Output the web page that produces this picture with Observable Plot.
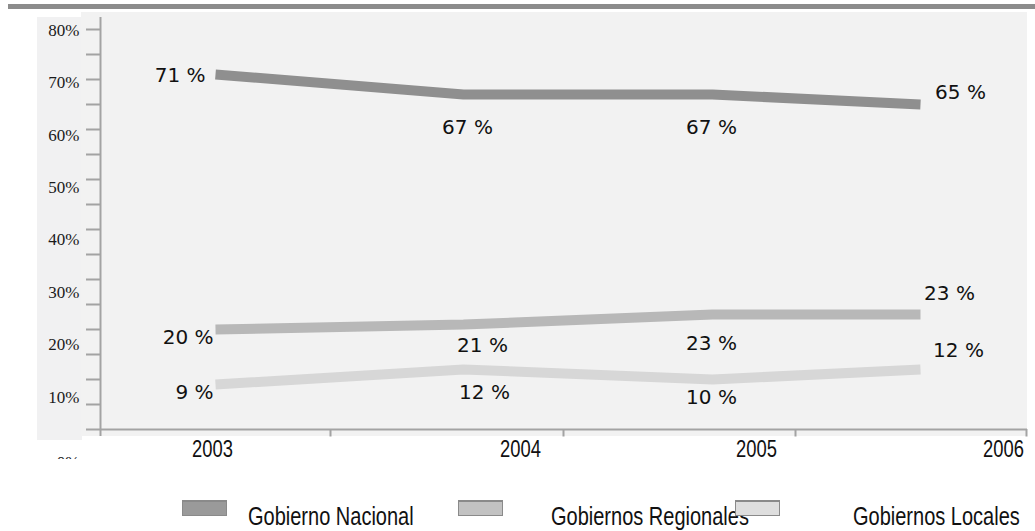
<!DOCTYPE html>
<html>
<head>
<meta charset="utf-8">
<script src="https://cdn.jsdelivr.net/npm/d3@7"></script>
<script src="https://cdn.jsdelivr.net/npm/@observablehq/plot@0.6"></script>
<style>
  body { margin: 0; background: #fff; }
  #wrap { position: relative; width: 1035px; height: 531px; overflow: hidden; font-family: "Liberation Sans", Arial, sans-serif; }
  .topbar { position: absolute; left: 8px; top: 4px; width: 1027px; height: 5px; background: #8c8c8c; }
  .lpanel { position: absolute; left: 37px; top: 17px; width: 45px; height: 423px; background: #f1f1f2; }
  .ppanel { position: absolute; left: 81px; top: 12px; width: 946px; height: 424px; background: #f2f2f2; }
  #chart { position: absolute; left: 0; top: 0; width: 1035px; height: 480px; }
  #chart svg { background: transparent !important; }
  .cover { position: absolute; left: 40px; top: 459px; width: 50px; height: 20px; background: #fff; }
  .sw { position: absolute; top: 500px; width: 43px; height: 13px; border: 1px solid #8a8a8a; border-top-width: 2px; }
  .lt { position: absolute; top: 502px; font-size: 25px; line-height: 28px; color: #111; white-space: nowrap; transform: scaleX(0.8); transform-origin: left top; }
</style>
</head>
<body>
<div id="wrap">
  <div class="topbar"></div>
  <div class="lpanel"></div>
  <div class="ppanel"></div>
  <div id="chart"></div>
  <div class="cover"></div>
  <div id="legend"></div>
</div>
<script>
// ---------- data ----------
const years = [2003, 2004, 2005, 2006];
const seriesNames = ["Gobierno Nacional", "Gobiernos Regionales", "Gobiernos Locales"];
const nacional = [71, 67, 67, 65];
const regionales = [20, 21, 23, 23];
const locales = [9, 12, 10, 12];
const yTickValues = [0, 10, 20, 30, 40, 50, 60, 70, 80];
const yTickLabels = ["0%", "10%", "20%", "30%", "40%", "50%", "60%", "70%", "80%"];
const yearLabels = ["2003", "2004", "2005", "2006"];

// ---------- table built from arrays ----------
const seriesValues = [nacional, regionales, locales];
const rows = [];
seriesNames.forEach((s, si) => years.forEach((y, i) => rows.push({series: s, year: y, value: seriesValues[si][i]})));

// ---------- layout / style ----------
const colors = ["#8f8f8f", "#b8b8b8", "#d7d7d7"];
const axisColor = "#a3a3a3";
// per-label offsets [dx, dy, anchor]
const labelOffsets = [
  [[-10, 1, "end"], [4, 33, "middle"], [-1, 33, "middle"], [40, -12, "middle"]],
  [[-2, 8, "end"], [19, 21, "middle"], [-1, 29, "middle"], [29, -21, "middle"]],
  [[-2, 8, "end"], [21, 23, "middle"], [-1, 18, "middle"], [38, -19, "middle"]]
];
const yearLabelDx = [-3, 57, 44, 83];
const separatorDx = [115, 100, 83, 106];

const marks = [];
// y axis ticks (major + minor)
marks.push(Plot.axisY(d3.range(0, 81, 5), {tickSize: 14, tickFormat: () => "", label: null, stroke: axisColor, strokeWidth: 2}));
// y axis labels
yTickValues.forEach((v, i) => {
  marks.push(Plot.text([v], {
    y: d => d, frameAnchor: "left", text: () => yTickLabels[i], textAnchor: "end",
    dx: -21, dy: v === 0 ? 33 : 20 - 0.24 * v,
    fontFamily: "Liberation Serif", fontSize: 17, fill: "#1a1a1a"
  }));
});
// y axis line
marks.push(Plot.ruleX([years[0]], {x: d => d, dx: -115, y1: () => -1.4, y2: () => 82.4, stroke: axisColor, strokeWidth: 2}));
// baseline
marks.push(Plot.ruleY([0], {stroke: axisColor, strokeWidth: 2}));
// x separators & labels
years.forEach((yr, i) => {
  marks.push(Plot.ruleX([yr], {x: d => d, dx: separatorDx[i], y1: () => 0, y2: () => -1.5, stroke: axisColor, strokeWidth: 2}));
  marks.push(Plot.text([yr], {
    x: d => d, y: () => 0, dy: 20, dx: yearLabelDx[i], text: () => yearLabels[i],
    fontFamily: "Liberation Sans", fontSize: 23, fill: "#111", className: "yearlab"
  }));
});
// lines
marks.push(Plot.line(rows, {x: "year", y: "value", z: "series", stroke: "series", strokeWidth: 10, strokeLinecap: "butt", strokeLinejoin: "bevel"}));
// data labels
seriesNames.forEach((s, si) => {
  years.forEach((yr, i) => {
    const [dx, dy, anchor] = labelOffsets[si][i];
    marks.push(Plot.text(rows.filter(r => r.series === s && r.year === yr), {
      x: "year", y: "value", text: d => `${d.value} %`, dx, dy, textAnchor: anchor,
      fontFamily: "DejaVu Sans", fontSize: 20, fill: "#111"
    }));
  });
});

const chart = Plot.plot({
  width: 1035, height: 480,
  marginLeft: 100, marginTop: 17, marginRight: 8, marginBottom: 44,
  style: {background: "transparent"},
  x: {type: "linear", domain: years, range: [215, 463, 712, 920], axis: null},
  y: {domain: [0, 80], range: [429, 29]},
  color: {domain: seriesNames, range: colors},
  marks
});
document.getElementById("chart").appendChild(chart);

// condense the year labels like the reference's narrow font
d3.select(chart).selectAll(".yearlab text").each(function() {
  const w = this.getComputedTextLength();
  this.setAttribute("textLength", (w * 0.8).toFixed(1));
  this.setAttribute("lengthAdjust", "spacingAndGlyphs");
});

// legend
const legend = document.getElementById("legend");
const swatchX = [182, 458, 735];
const textX = [248, 551, 853];
const swatchFill = ["#9a9a9a", "#c2c2c2", "#dedede"];
seriesNames.forEach((s, i) => {
  const t = document.createElement("div");
  t.className = "lt"; t.style.left = textX[i] + "px"; t.textContent = s;
  legend.appendChild(t);
});
seriesNames.forEach((s, i) => {
  const sw = document.createElement("div");
  sw.className = "sw"; sw.style.left = swatchX[i] + "px"; sw.style.background = swatchFill[i];
  legend.appendChild(sw);
});
</script>
</body>
</html>
